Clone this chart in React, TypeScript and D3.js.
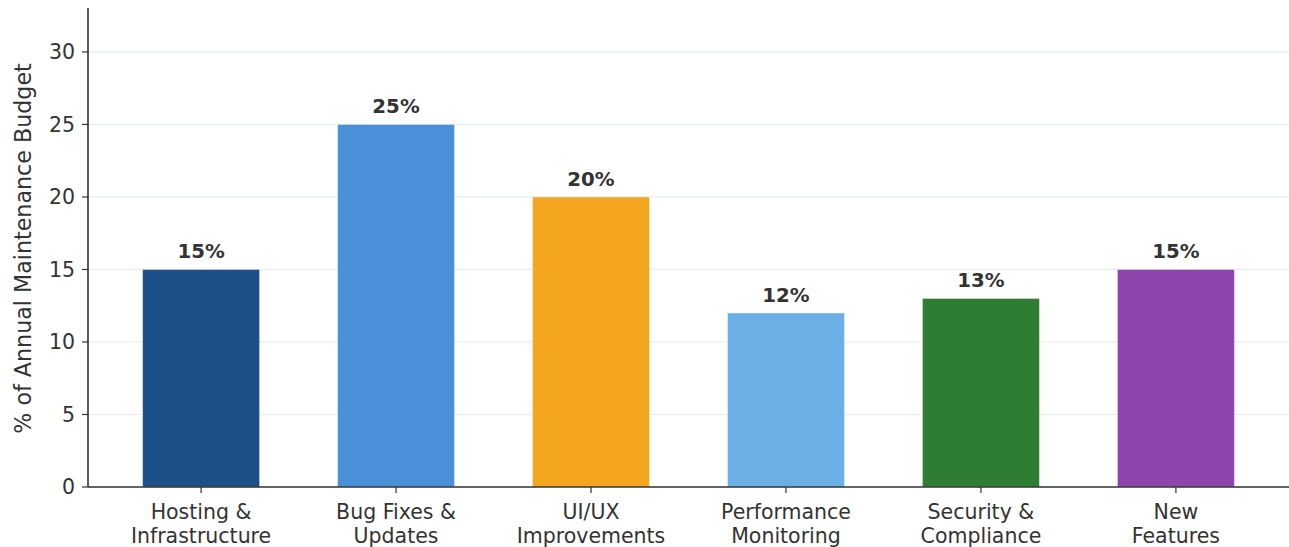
import React from "react";
import * as d3 from "d3";

const categories = [
  ["Hosting &", "Infrastructure"],
  ["Bug Fixes &", "Updates"],
  ["UI/UX", "Improvements"],
  ["Performance", "Monitoring"],
  ["Security &", "Compliance"],
  ["New", "Features"],
];
const values = [15, 25, 20, 12, 13, 15];
const colors = ["#1d4f89", "#4a90d9", "#f4a620", "#6ab0e6", "#2e7d32", "#8e44ad"];
const yTicks = [0, 5, 10, 15, 20, 25, 30];
const yLabel = "% of Annual Maintenance Budget";

const W = 1289;
const H = 547;
const left = 88;
const right = 1289;
const top = 8;
const bottom = 487;
const font = "DejaVu Sans, sans-serif";
const textColor = "#333333";

export default function App() {
  const x = d3.scaleLinear().domain([-0.58, categories.length - 1 + 0.58]).range([left, right]);
  const y = d3.scaleLinear().domain([0, 33.03]).range([bottom, top]);
  const barW = x(0.6) - x(0);

  return (
    <svg width={W} height={H} style={{ position: "absolute", left: 0, top: 0, background: "#fff" }}>
      {yTicks.map((t) => (
        <line key={"g" + t} x1={left} x2={right} y1={y(t)} y2={y(t)} stroke="#e6ecf2" strokeWidth={1.2} />
      ))}
      {values.map((v, i) => (
        <rect
          key={"b" + i}
          x={x(i) - barW / 2}
          y={y(v)}
          width={barW}
          height={y(0) - y(v)}
          fill={colors[i]}
          stroke="#ffffff"
          strokeOpacity={0.4}
          strokeWidth={1}
        />
      ))}
      {values.map((v, i) => (
        <text
          key={"v" + i}
          x={x(i)}
          y={y(v) - 11}
          textAnchor="middle"
          fontFamily={font}
          fontWeight="bold"
          fontSize={19.8}
          fill={textColor}
        >
          {v}%
        </text>
      ))}
      <line x1={left} x2={left} y1={top} y2={bottom} stroke="#333" strokeWidth={1.6} />
      <line x1={left} x2={right} y1={bottom} y2={bottom} stroke="#333" strokeWidth={1.6} />
      {yTicks.map((t) => (
        <g key={"t" + t}>
          <line x1={left - 6} x2={left} y1={y(t)} y2={y(t)} stroke="#333" strokeWidth={1.2} />
          <text
            x={left - 13}
            y={y(t)}
            dy="0.36em"
            textAnchor="end"
            fontFamily={font}
            fontSize={20.5}
            fill={textColor}
          >
            {t}
          </text>
        </g>
      ))}
      {categories.map((c, i) => (
        <g key={"c" + i}>
          <line x1={x(i)} x2={x(i)} y1={bottom} y2={bottom + 6} stroke="#333" strokeWidth={1.2} />
          {c.map((line, j) => (
            <text
              key={j}
              x={x(i)}
              y={519 + j * 24}
              textAnchor="middle"
              fontFamily={font}
              fontSize={20.5}
              fill={textColor}
            >
              {line}
            </text>
          ))}
        </g>
      ))}
      <text
        transform={`translate(31, ${(top + bottom) / 2 + 1}) rotate(-90)`}
        textAnchor="middle"
        fontFamily={font}
        fontSize={22.2}
        fill={textColor}
      >
        {yLabel}
      </text>
    </svg>
  );
}
